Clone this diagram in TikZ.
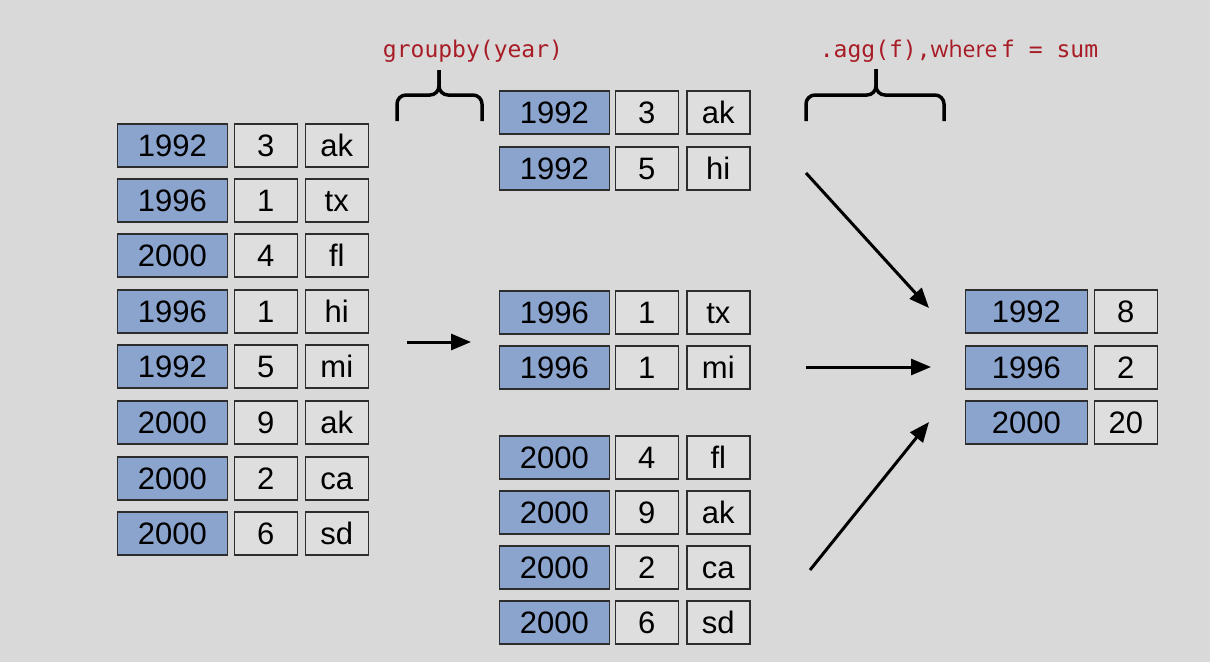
\documentclass[tikz,border=0pt]{standalone}
\usepackage{fontspec}
\setmainfont{Liberation Sans}
\setmonofont{DejaVu Sans Mono}
\newfontfamily\wherefont{Open Sans}
\usetikzlibrary{arrows.meta}
\definecolor{bgc}{RGB}{217,217,217}
\definecolor{yearc}{RGB}{139,164,206}
\definecolor{cellc}{RGB}{222,222,222}
\definecolor{edgec}{RGB}{45,45,45}
\definecolor{codec}{RGB}{168,28,38}
\tikzset{
  base/.style={draw=edgec, line width=1.6pt, inner sep=0pt, anchor=north west,
    font=\fontsize{31}{35}\selectfont, text=black, text height=22pt, text depth=0pt},
  yearcell/.style={base, fill=yearc, minimum width=110pt, minimum height=43pt},
  numcell/.style={base, fill=cellc, minimum width=63pt, minimum height=43pt},
  valcell/.style={base, fill=cellc, minimum width=63pt, minimum height=43pt},
  flowarrow/.style={line width=3pt, -{Triangle[length=20pt,width=16pt]}},
  brace/.style={line width=3.5pt, rounded corners=9pt},
  codelabel/.style={text=codec, font=\fontsize{23}{27}\selectfont\ttfamily, inner sep=0pt}
}
\begin{document}
\begin{tikzpicture}[x=1pt,y=-1pt]
\fill[bgc] (0,0) rectangle (1210,662);
\useasboundingbox (0,0) rectangle (1210,662);

% left table
\foreach \y/\yr/\n/\s [count=\i] in {123/1992/3/ak,178/1996/1/tx,233/2000/4/fl,289/1996/1/hi,344/1992/5/mi,400/2000/9/ak,456/2000/2/ca,511/2000/6/sd}{
  \node[yearcell] (L\i y) at (116.5,\y) {\yr};
  \node[numcell] (L\i n) at (233.5,\y) {\n};
  \node[valcell] (L\i s) at (304.5,\y) {\s};
}

% middle table
\foreach \y/\yr/\n/\s [count=\i] in {90/1992/3/ak,146/1992/5/hi,290/1996/1/tx,345/1996/1/mi,435/2000/4/fl,490/2000/9/ak,545/2000/2/ca,600/2000/6/sd}{
  \node[yearcell] (M\i y) at (498.5,\y) {\yr};
  \node[numcell] (M\i n) at (614.5,\y) {\n};
  \node[valcell] (M\i s) at (686,\y) {\s};
}

% right table
\foreach \y/\yr/\n [count=\i] in {289/1992/8,345/1996/2,400/2000/20}{
  \node[yearcell, minimum width=122pt] (R\i y) at (964.5,\y) {\yr};
  \node[numcell] (R\i n) at (1093.5,\y) {\n};
}

% arrows
\coordinate (a0s) at (407,342); \coordinate (a0e) at (471,342);
\draw[flowarrow] (a0s) -- (a0e);
\coordinate (a1s) at (806,173); \coordinate (a1e) at (929,308);
\draw[flowarrow] (a1s) -- (a1e);
\coordinate (a2s) at (806,367); \coordinate (a2e) at (931,367);
\draw[flowarrow] (a2s) -- (a2e);
\coordinate (a3s) at (810,570); \coordinate (a3e) at (929,422);
\draw[flowarrow] (a3s) -- (a3e);

% braces
\draw[brace] (397,121) -- (397,95) -- (439,95) -- (439,70);
\draw[brace] (482,121) -- (482,95) -- (439,95) -- (439,70);
\draw[brace] (806,121) -- (806,95) -- (876,95) -- (876,69);
\draw[brace] (944,121) -- (944,95) -- (876,95) -- (876,69);

% labels
\node[codelabel] (lg) at (473,51) {groupby(year)};
\node[codelabel] (la) at (959,51) {.agg(f),{\wherefont where}\,f = sum};
\end{tikzpicture}
\end{document}
